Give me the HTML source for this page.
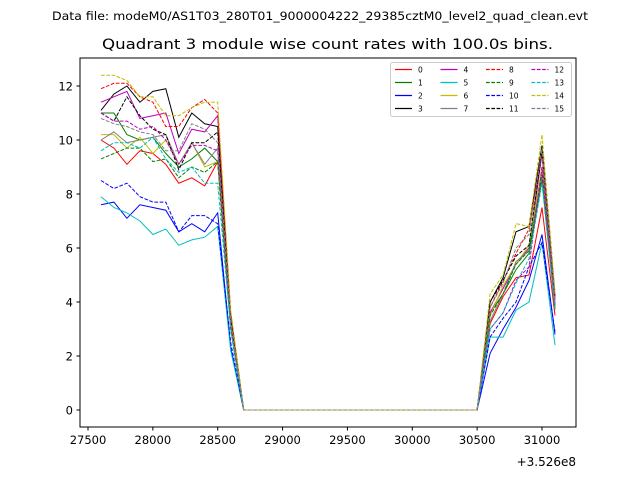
<!DOCTYPE html>
<html><head><meta charset="utf-8"><style>
body{margin:0;background:#fff;}
svg{display:block;font-family:"DejaVu Sans","Liberation Sans",sans-serif;}
</style></head><body>
<svg id="chart" width="640" height="480" xmlns="http://www.w3.org/2000/svg">
<rect width="640" height="480" fill="#fff"/>
<text x="52" y="20" font-size="11.5" textLength="536" lengthAdjust="spacingAndGlyphs">Data file: modeM0/AS1T03_280T01_9000004222_29385cztM0_level2_quad_clean.evt</text>
<text x="102" y="49" font-size="14" textLength="451" lengthAdjust="spacingAndGlyphs">Quadrant 3 module wise count rates with 100.0s bins.</text>
<g id="plot"></g>
<rect x="80" y="58" width="496" height="369" fill="none" stroke="#000" stroke-width="1"/>
<g id="axes"></g>
<text x="576" y="466" font-size="12" text-anchor="end">+3.526e8</text>
<g id="legend"></g>
</svg>
<script>
const times0 = 27600;
const leftVals = [
[10.0,9.7,9.1,9.6,9.5,9.1,8.4,8.6,8.3,9.2],
[11.0,11.0,10.2,10.0,10.1,9.5,9.0,9.3,9.7,9.2],
[7.6,7.7,7.1,7.6,7.5,7.4,6.6,6.9,6.6,7.3],
[11.1,11.7,12.0,11.4,11.8,11.9,10.1,11.0,10.6,10.5],
[11.4,11.6,11.8,10.8,10.9,11.0,9.5,10.4,10.3,10.9],
[7.9,7.5,7.3,7.0,6.5,6.7,6.1,6.3,6.4,6.8],
[10.2,10.2,9.7,10.1,9.5,10.0,9.1,9.9,9.0,9.2],
[10.0,10.3,9.9,10.0,10.1,10.2,9.1,9.9,9.1,9.7],
[11.9,12.1,12.1,11.6,11.4,10.5,10.5,11.2,11.5,11.0],
[9.3,9.5,9.7,9.7,9.2,9.3,8.6,9.0,8.8,9.2],
[8.5,8.2,8.4,7.9,7.7,7.7,6.6,7.2,7.2,6.9],
[11.0,10.7,11.6,10.9,10.4,10.2,8.9,9.9,9.9,10.3],
[11.0,10.7,10.7,10.4,10.5,10.0,9.1,9.8,9.8,9.6],
[9.6,9.9,9.9,9.7,10.1,9.3,8.8,9.0,8.4,8.4],
[12.4,12.4,12.2,11.6,11.6,10.9,10.9,11.2,11.4,11.4],
[10.8,10.6,10.5,10.3,10.2,9.6,9.6,10.6,10.4,9.9]];
const dropVals = [3.0,3.3,2.3,3.5,3.4,2.2,3.1,3.1,3.6,3.0,2.5,3.4,3.2,3.0,3.7,3.3];
const zeroCount = 19;
const rightVals = [
[3.2,4.2,4.9,5.0,7.5,3.5],
[3.6,4.3,5.2,5.8,8.5,3.8],
[2.1,3.0,3.8,4.8,6.5,2.8],
[4.0,4.9,6.6,6.8,9.8,4.2],
[3.6,4.5,5.4,6.0,9.5,4.0],
[2.7,2.7,3.7,4.0,6.2,2.4],
[3.5,4.6,5.4,6.1,9.0,4.0],
[3.3,4.3,5.5,5.9,8.8,3.9],
[3.8,4.8,5.8,6.7,9.5,4.2],
[3.5,4.3,5.4,5.9,8.7,3.7],
[2.7,3.4,4.0,5.3,6.2,2.9],
[4.0,4.8,5.7,6.1,9.6,4.1],
[3.0,3.6,4.8,5.3,9.0,3.9],
[3.0,3.6,4.7,5.6,8.4,3.7],
[4.3,5.0,6.9,6.8,10.2,4.4],
[3.8,4.7,6.0,6.5,9.7,4.1]];
const colors = ['#ff0000','#008000','#0000ff','#000000','#bf00bf','#00bfbf','#bfbf00','#808080'];
const xTicks = [27500,28000,28500,29000,29500,30000,30500,31000];
const yTicks = [0,2,4,6,8,10,12];

const NS='http://www.w3.org/2000/svg';
const X = t => 88 + (t-27500)*0.12971;
const Y = v => 410 - 27*v;
const plot=document.getElementById('plot'), axes=document.getElementById('axes'), leg=document.getElementById('legend');
function mk(tag,attrs,parent){const e=document.createElementNS(NS,tag);for(const k in attrs)e.setAttribute(k,attrs[k]);parent.appendChild(e);return e;}

for(let s=0;s<16;s++){
  const vals=[...leftVals[s],dropVals[s],...Array(zeroCount).fill(0),...rightVals[s]];
  const pts=vals.map((v,i)=>X(times0+100*i).toFixed(1)+','+Y(v).toFixed(1)).join(' ');
  const pl=mk('polyline',{points:pts,fill:'none',stroke:colors[s%8],'stroke-width':1},plot);
  
  
  if(s>=8) pl.setAttribute('stroke-dasharray','3.7,1.6');
}
xTicks.forEach(t=>{
  const x=X(t);
  mk('line',{x1:x,x2:x,y1:427,y2:430.5,stroke:'#000'},axes);
  const tx=mk('text',{x:x,y:444,'font-size':11.5,'text-anchor':'middle'},axes);
  tx.textContent=t;
  
  
});
yTicks.forEach(v=>{
  const y=Y(v);
  mk('line',{x1:76.5,x2:80,y1:y,y2:y,stroke:'#000'},axes);
  const tx=mk('text',{x:73,y:y+4.5,'font-size':11.5,'text-anchor':'end'},axes);
  tx.textContent=v;
  
  
});
const lb=mk('rect',{x:390.5,y:62.5,width:181,height:54,rx:2,fill:'#fff',stroke:'#ccc'},leg);


for(let s=0;s<16;s++){
  const col=Math.floor(s/4), row=s%4;
  const x=395+col*45.5, y=69.5+row*13;
  const l=mk('line',{x1:x,x2:x+17,y1:y,y2:y,stroke:colors[s%8],'stroke-width':1.3},leg);
  if(s>=8) l.setAttribute('stroke-dasharray','3.7,1.6');
  const t=mk('text',{x:x+23,y:y+3,'font-size':7.5},leg);
  t.textContent=s;
  
  
}
</script>
</body></html>
